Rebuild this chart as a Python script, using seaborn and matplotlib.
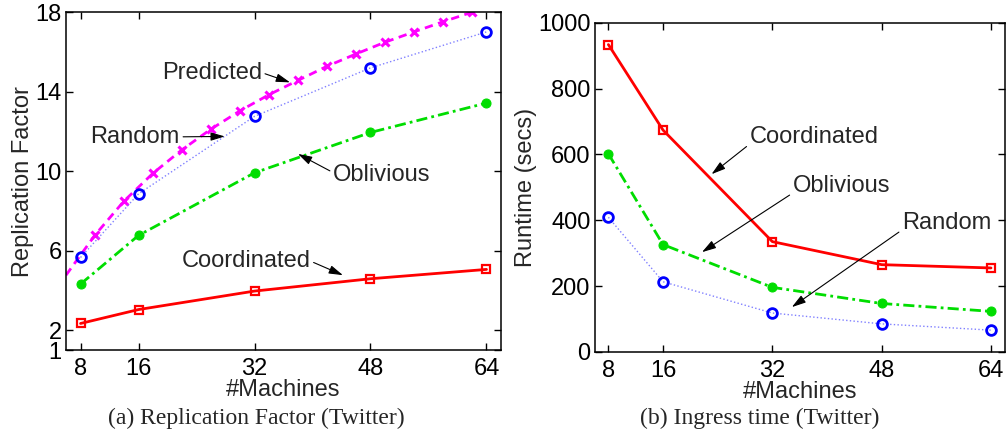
import matplotlib
matplotlib.use("Agg")
import matplotlib.pyplot as plt
import seaborn as sns
import pandas as pd

machines = [8, 16, 32, 48, 64]

# (a) replication factor
rf_coordinated = [2.34, 3.04, 3.97, 4.59, 5.06]
rf_oblivious = [4.32, 6.77, 9.92, 11.95, 13.43]
rf_random = [5.66, 8.86, 12.76, 15.2, 17.01]
pred_machines = [6, 10, 14, 18, 22, 26, 30, 34, 38, 42, 46, 50, 54, 58, 62]
rf_predicted = [4.77, 6.79, 8.5, 9.9, 11.08, 12.12, 13.04, 13.85, 14.57,
                15.28, 15.9, 16.49, 17.01, 17.52, 18.0]

# (b) ingress time
rt_coordinated = [934, 674, 335, 265, 255]
rt_oblivious = [602, 326, 196, 147, 123]
rt_random = [409, 213, 118, 85, 66]

sns.set_style("ticks")
plt.rcParams['font.family'] = ['Liberation Sans', 'DejaVu Sans']

fig = plt.figure(figsize=(10.08, 4.36), dpi=100)
ax1 = fig.add_axes([0.0655, 0.197, 0.4315, 0.775])
ax2 = fig.add_axes([0.590, 0.193, 0.4067, 0.7546])

RED = "#ff0000"
GREEN = "#00dd00"
BLUE = "#0000ff"
LBLUE = "#8080ff"
MAG = "#ff00ff"


def draw_series(ax, x, y, kind):
    if kind == "coordinated":
        sns.lineplot(x=x, y=y, ax=ax, color=RED, lw=2.0, marker="s", ms=6,
                     mfc="none", mec=RED, mew=1.6)
    elif kind == "oblivious":
        sns.lineplot(x=x, y=y, ax=ax, color=GREEN, lw=2.0,
                     linestyle=(0, (4, 1.5, 1, 1.5)),
                     marker="o", ms=6.5, mfc=GREEN, mec=GREEN)
    elif kind == "random":
        sns.lineplot(x=x, y=y, ax=ax, color=LBLUE, lw=1.0, linestyle=":",
                     marker="o", ms=7, mfc="none", mec=BLUE, mew=2.0)


# left panel
sns.lineplot(x=pred_machines, y=rf_predicted, ax=ax1, color=MAG, lw=2.0,
             linestyle=(0, (3, 2)), marker="x", ms=6, mew=2.2, mec=MAG,
             markevery=slice(1, None))
draw_series(ax1, machines, rf_random, "random")
draw_series(ax1, machines, rf_oblivious, "oblivious")
draw_series(ax1, machines, rf_coordinated, "coordinated")

ax1.set_xlim(6, 66)
ax1.set_ylim(1, 18)
ax1.set_yticks([1, 2, 6, 10, 14, 18])

# right panel
draw_series(ax2, machines, rt_random, "random")
draw_series(ax2, machines, rt_oblivious, "oblivious")
draw_series(ax2, machines, rt_coordinated, "coordinated")

ax2.set_xlim(6, 66)
ax2.set_ylim(0, 1000)
ax2.set_yticks([0, 200, 400, 600, 800, 1000])

for ax in (ax1, ax2):
    ax.set_xticks(machines)
    ax.tick_params(direction="in", top=True, right=True, length=5,
                   width=1, labelsize=17, colors="black")
    ax.tick_params(axis="x", pad=6)
    ax.tick_params(axis="y", pad=3)
    for s in ax.spines.values():
        s.set_visible(True)
        s.set_linewidth(1.1)
        s.set_color("black")
    ax.set_xlabel("#Machines", fontsize=17, labelpad=-1)

ax1.set_ylabel("Replication Factor", fontsize=17, labelpad=1)
ax2.set_ylabel("Runtime (secs)", fontsize=17, labelpad=1)

arrow = dict(arrowstyle="-|>,head_length=0.5,head_width=0.15", color="black",
             lw=0.8, shrinkA=0, shrinkB=0)

# annotations (a)
ax1.annotate("Predicted", xy=(36.9, 14.47), xytext=(33.0, 14.96),
             ha="right", va="center", fontsize=17,
             arrowprops=dict(arrow, relpos=(1, 0.5)))
ax1.annotate("Random", xy=(27.9, 11.75), xytext=(21.7, 11.73),
             ha="right", va="center", fontsize=17,
             arrowprops=dict(arrow, relpos=(1, 0.5)))
ax1.annotate("Oblivious", xy=(38.0, 10.87), xytext=(42.85, 9.82),
             ha="left", va="center", fontsize=17,
             arrowprops=dict(arrow, relpos=(0, 0.6)))
ax1.annotate("Coordinated", xy=(44.2, 4.77), xytext=(39.7, 5.48),
             ha="right", va="center", fontsize=17,
             arrowprops=dict(arrow, relpos=(1, 0.5)))

# annotations (b)
ax2.annotate("Coordinated", xy=(23.1, 540), xytext=(28.7, 652),
             ha="left", va="center", fontsize=17,
             arrowprops=dict(arrow, relpos=(0, 0.2)))
ax2.annotate("Oblivious", xy=(21.7, 303), xytext=(35.0, 503),
             ha="left", va="center", fontsize=17,
             arrowprops=dict(arrow, relpos=(0, 0.2)))
ax2.annotate("Random", xy=(34.85, 136), xytext=(51.0, 391),
             ha="left", va="center", fontsize=17,
             arrowprops=dict(arrow, relpos=(0, 0.2)))

fig.text(256 / 1008, 1 - 418 / 436, "(a) Replication Factor (Twitter)",
         ha="center", va="center", fontsize=17, family="Liberation Serif")
fig.text(760 / 1008, 1 - 418 / 436, "(b) Ingress time (Twitter)",
         ha="center", va="center", fontsize=17, family="Liberation Serif")

fig.savefig("out.png", dpi=100)
